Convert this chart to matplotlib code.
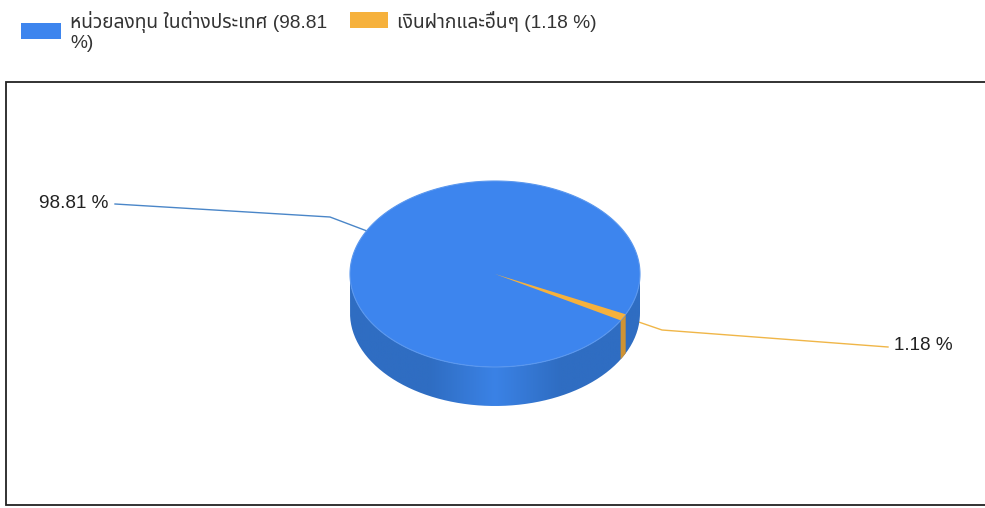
import numpy as np
import matplotlib
matplotlib.use("Agg")
import matplotlib.pyplot as plt
from matplotlib.patches import Polygon, Rectangle, PathPatch
from matplotlib.path import Path

labels = ["หน่วยลงทุน ในต่างประเทศ", "เงินฝากและอื่นๆ"]
values = [98.81, 1.18]
value_labels = ["98.81 %", "1.18 %"]
colors = ["#3d85ee", "#f6b13c"]
side_colors = ["#2f6dc2", "#cf9334"]

plt.rcParams["font.family"] = ["Liberation Sans", "Noto Sans Thai", "IBM Plex Sans Thai",
                               "FreeSerif", "DejaVu Sans"]

CX, CY = 495, 274
RX, RY = 145, 93
DEPTH = 39
# middle of the small slice, measured clockwise from 3 o'clock
MID_SMALL = 27.8


def ellipse_pts(a0, a1, n=200, dy=0):
    t = np.radians(np.linspace(a0, a1, n))
    return np.column_stack([CX + RX * np.cos(t), CY + dy + RY * np.sin(t)])


fig = plt.figure(figsize=(9.85, 5.08), dpi=100)
ax = fig.add_axes([0, 0, 1, 1])
ax.set_xlim(0, 985)
ax.set_ylim(508, 0)
ax.axis("off")

# chart frame
ax.add_patch(Rectangle((5.5, 81.5), 985, 423, fc="white", ec="#222222", lw=1.3))

# wall of the pie, brighter at the front
front = np.vstack([ellipse_pts(0, 180), ellipse_pts(180, 0, dy=DEPTH)])
wall = PathPatch(Path(np.vstack([front, front[0]])), fc="none", ec="none")
ax.add_patch(wall)
shade = np.abs(np.linspace(-1, 1, 300))[None, :, None]
dark = np.array(matplotlib.colors.to_rgb(side_colors[0]))
light = np.array([0.23, 0.51, 0.90])
im = ax.imshow(light + (dark - light) * np.minimum(shade * 2.2, 1),
               extent=[CX - RX, CX + RX, CY + RY + DEPTH, CY], aspect="auto", zorder=2)
im.set_clip_path(wall)
ax.set_xlim(0, 985)
ax.set_ylim(508, 0)

# slices from the values
sweep = [v / sum(values) * 360 for v in values]
a0 = MID_SMALL - sweep[1] / 2
a1 = MID_SMALL + sweep[1] / 2
strip = np.vstack([ellipse_pts(a0, a1, 20), ellipse_pts(a1, a0, 20, dy=DEPTH)])
ax.add_patch(Polygon(strip, fc=side_colors[1], ec="none", zorder=3))

top = ellipse_pts(0, 360, 400)
ax.add_patch(Polygon(top, fc=colors[0], ec="#5a97ee", lw=0.8, zorder=4))
wedge = np.vstack([[CX, CY], ellipse_pts(a0, a1, 20)])
ax.add_patch(Polygon(wedge, fc=colors[1], ec="none", zorder=5))

# leader lines and value labels
ax.plot([115, 330, 367], [204, 217, 231], color="#4a86c8", lw=1, zorder=1)
ax.plot([627, 662, 888], [318, 330, 347], color="#f0b648", lw=1, zorder=1)
ax.text(39, 203, value_labels[0], fontsize=13.6, va="center", color="#222222")
ax.text(894, 346, value_labels[1], fontsize=13.6, va="center", color="#222222")

# legend
ax.add_patch(Rectangle((21, 23), 40, 16, fc=colors[0], ec="none"))
ax.add_patch(Rectangle((350, 12), 38, 16, fc=colors[1], ec="none"))
ax.text(70, 22, f"{labels[0]} ({values[0]}", fontsize=13.8, va="center", color="#333333")
ax.text(70, 44, "%)", fontsize=13.8, va="center", color="#333333")
ax.text(397, 22, f"{labels[1]} ({values[1]} %)", fontsize=13.8, va="center", color="#333333")

fig.savefig("out.png", dpi=100)
